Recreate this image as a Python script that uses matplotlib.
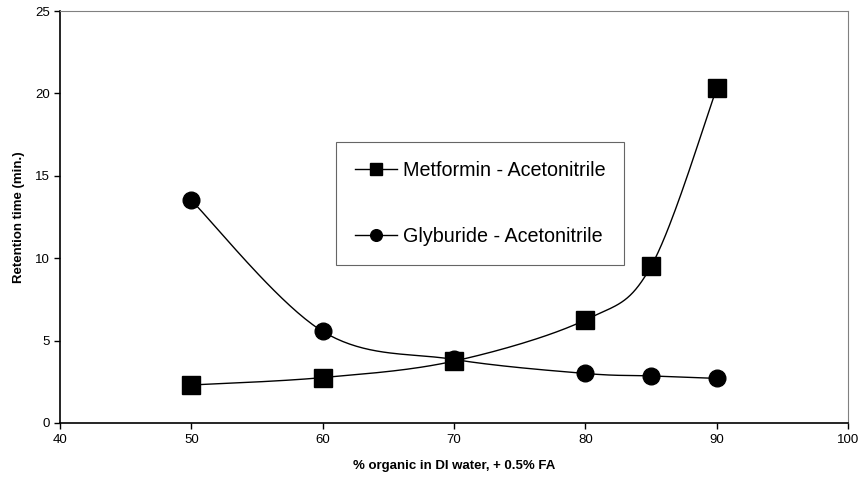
import matplotlib.pyplot as plt
import numpy as np

plt.rcParams['font.family'] = ['Liberation Sans', 'DejaVu Sans']

organic = [50, 60, 70, 80, 85, 90]
metformin = [2.3, 2.75, 3.75, 6.25, 9.5, 20.3]
glyburide = [13.5, 5.55, 3.85, 3.0, 2.85, 2.7]


# smoothed curve through the points (Bezier with Catmull-Rom handles, in pixel space)
def smooth(ax, xs, ys, n=40):
    pts = ax.transData.transform(np.column_stack([xs, ys]))
    p = np.vstack([pts[0], pts, pts[-1]])
    out = []
    for i in range(1, len(p) - 2):
        p0, p1, p2, p3 = p[i - 1], p[i], p[i + 1], p[i + 2]
        t = np.linspace(0, 1, n)[:, None]
        c1 = p1 + (p2 - p0) / 6
        c2 = p2 - (p3 - p1) / 6
        seg = ((1 - t) ** 3) * p1 + 3 * ((1 - t) ** 2) * t * c1 + 3 * (1 - t) * t ** 2 * c2 + t ** 3 * p2
        out.append(seg)
    out = np.vstack(out)
    data = ax.transData.inverted().transform(out)
    return data[:, 0], data[:, 1]


fig = plt.figure(figsize=(8.6, 4.8), dpi=100)
ax = fig.add_axes([0.07, 0.119, 0.916, 0.858])
ax.set_xlim(40, 100)
ax.set_ylim(0, 25)
ax.set_xticks(range(40, 101, 10))
ax.set_yticks(range(0, 26, 5))

for vals, mk, ms, lab in [(metformin, 's', 13, 'Metformin - Acetonitrile'),
                          (glyburide, 'o', 12, 'Glyburide - Acetonitrile')]:
    sx, sy = smooth(ax, organic, vals)
    ax.plot(sx, sy, color='black', lw=1)
    ax.plot(organic, vals, linestyle='none', marker=mk, ms=ms, color='black')
    ax.plot([], [], color='black', lw=1, marker=mk, ms=ms * 0.7, label=lab)

for s in ['top', 'right']:
    ax.spines[s].set_color('#808080')
    ax.spines[s].set_linewidth(0.8)
for s in ['left', 'bottom']:
    ax.spines[s].set_linewidth(1.2)
ax.tick_params(direction='out', length=4, labelsize=9.5, width=1)
ax.tick_params(axis='x', pad=4)

ax.set_xlabel('% organic in DI water, + 0.5% FA', fontsize=9.5, fontweight='bold', labelpad=10)
ax.set_ylabel('Retention time (min.)', fontsize=9.5, fontweight='bold', labelpad=7)

leg = ax.legend(loc='upper left', bbox_to_anchor=(0.350, 0.682), fontsize=14.2,
                frameon=True, fancybox=False, edgecolor='#404040', labelspacing=2.4,
                handlelength=2.15, handletextpad=0.3, borderpad=0.95, borderaxespad=0)
leg.get_frame().set_linewidth(0.8)

fig.savefig('out.png', dpi=100)
